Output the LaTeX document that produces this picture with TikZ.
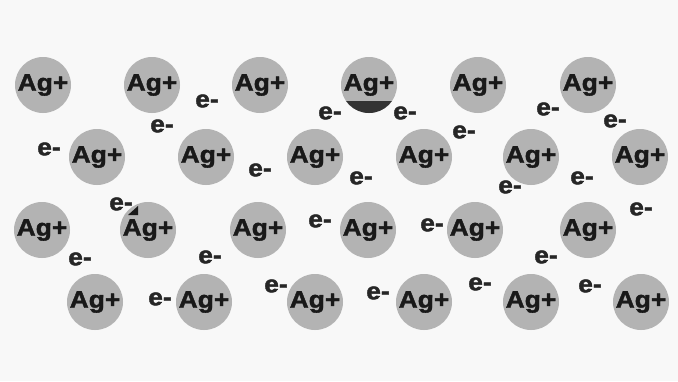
\documentclass[tikz,border=0pt]{standalone}
\usepackage{fontspec}
\setmainfont{Liberation Sans}
\newfontfamily\ionfont[FakeStretch=1.1,FakeBold=1.6]{Liberation Sans Bold}
\begin{document}
\begin{tikzpicture}[x=1pt,y=-1pt,
  ion/.style={circle,fill=iongray,minimum size=56pt,inner sep=0pt,
    font=\ionfont\fontsize{24}{24}\selectfont,text=black!90},
  elec/.style={inner sep=0pt,font=\ionfont\fontsize{24}{24}\selectfont,text=black!85}]
\definecolor{iongray}{HTML}{B3B3B3}
\definecolor{bggray}{HTML}{F8F8F8}
\fill[bggray] (0,0) rectangle (678,381);
\useasboundingbox (0,0) rectangle (678,381);
% row 1
\foreach \x [count=\i] in {43,152,260,369,478,588}
  \node[ion] (a\i) at (\x,85) {Ag+};
% row 2
\foreach \x [count=\i] in {97,206,315,424,531,640}
  \node[ion] (b\i) at (\x,157) {Ag+};
% row 3
\foreach \x [count=\i] in {42,148,258,368,475,588}
  \node[ion] (c\i) at (\x,230) {Ag+};
% row 4
\foreach \x [count=\i] in {95,204,315,424,531,641}
  \node[ion] (d\i) at (\x,302) {Ag+};
% scan marks
\begin{scope}
  \clip (369,85) circle (28);
  \fill[black!80] (335,101) rectangle (405,120);
\end{scope}
\fill[black!90] (128,215) -- (138,206) -- (138,215) -- cycle;
% electrons
\foreach \p [count=\i] in {(207,101),(162,126),(49,149),(260,170),(330,113),
  (405,113),(464,132),(548,109),(615,121),(361,178),(510,187),(582,178),
  (641,209),(121,204),(80,259),(210,257),(320,221),(432,225),(546,257),
  (160,299),(276,286),(378,293),(480,284),(590,286)}
  \node[elec] (e\i) at \p {e-};
\end{tikzpicture}
\end{document}
